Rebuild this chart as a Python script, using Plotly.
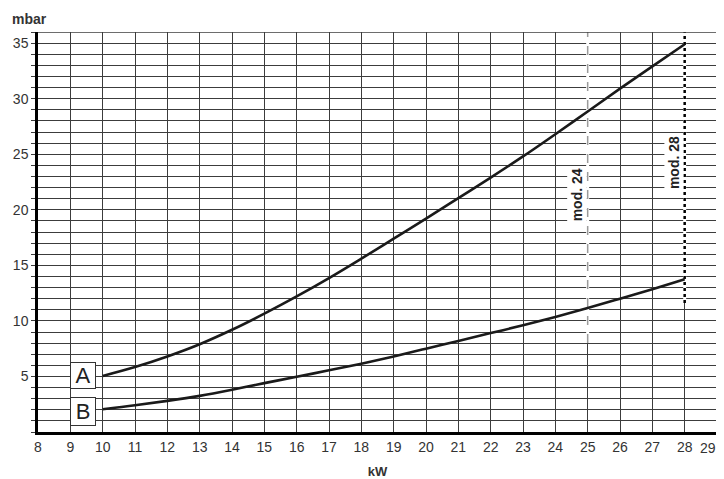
import plotly.graph_objects as go

# curve data
kw = [10, 11, 12, 13, 14, 15, 16, 17, 18, 19, 20, 21, 22, 23, 24, 25, 26, 27, 28]
p_a = [5.05, 5.85, 6.8, 7.9, 9.2, 10.65, 12.2, 13.85, 15.6, 17.4, 19.2, 21.05, 22.9, 24.8, 26.8, 28.85, 30.9, 32.9, 34.9]
p_b = [2.05, 2.4, 2.8, 3.25, 3.8, 4.4, 4.97, 5.55, 6.15, 6.8, 7.5, 8.2, 8.9, 9.6, 10.35, 11.15, 12.0, 12.85, 13.75]

# model limit lines
mod_names = ["mod. 24", "mod. 28"]
mod_kw = [25, 28]
mod_bottom = [8.0, 11.6]
mod_label_y = [21.3, 24.2]

x_ticks = list(range(8, 30))
y_ticks = list(range(0, 37))
y_labels = [str(v) if v % 5 == 0 and v > 0 else "" for v in y_ticks]

FONT = "Liberation Sans, Arial, sans-serif"
grid_col = "#3c3c3c"

fig = go.Figure()

# mod lines: white gap over the grid line, then the dashed line
for i, k in enumerate(mod_kw):
    fig.add_scatter(x=[k, k], y=[mod_bottom[i], 36], mode="lines",
                    line=dict(color="white", width=3), showlegend=False, hoverinfo="skip")
    if i == 0:
        fig.add_scatter(x=[k, k], y=[mod_bottom[i], 36], mode="lines",
                        line=dict(color="#9a9a9a", width=1.5, dash="dash"), showlegend=False)
    else:
        fig.add_scatter(x=[k, k], y=[mod_bottom[i], 36], mode="lines",
                        line=dict(color="black", width=2.5, dash="dot"), showlegend=False)
    fig.add_annotation(x=k - 0.33, y=mod_label_y[i], text="<b>" + mod_names[i] + "</b>",
                       textangle=-90, showarrow=False, bgcolor="white",
                       font=dict(family=FONT, size=14, color="#222"))

fig.add_scatter(x=kw, y=p_a, mode="lines", line=dict(color="#1a1a1a", width=2.6, shape="spline"),
                name="A", showlegend=False)
fig.add_scatter(x=kw, y=p_b, mode="lines", line=dict(color="#1a1a1a", width=2.6, shape="spline"),
                name="B", showlegend=False)

# boxed curve labels
fig.add_annotation(x=9.4, y=5.1, text="A", showarrow=False, bgcolor="white",
                   bordercolor="#333", borderwidth=1, width=22, height=23,
                   font=dict(family=FONT, size=22, color="#222"))
fig.add_annotation(x=9.4, y=1.85, text="B", showarrow=False, bgcolor="white",
                   bordercolor="#333", borderwidth=1, width=22, height=25,
                   font=dict(family=FONT, size=22, color="#222"))

fig.add_annotation(x=0.0, y=1.0, xref="paper", yref="paper", xshift=-28, yshift=3,
                   xanchor="left", yanchor="bottom", text="<b>mbar</b>", showarrow=False,
                   font=dict(family=FONT, size=14, color="#333"))

# last tick label sits on the right edge and plotly drops it, so put it back by hand
fig.add_annotation(x=x_ticks[-1], y=0, yref="paper", xanchor="right", xshift=1,
                   yanchor="top", yshift=-6,
                   text=str(x_ticks[-1]), showarrow=False,
                   font=dict(family=FONT, size=14, color="#333"))

fig.update_xaxes(range=[8, 29], tickvals=x_ticks, showgrid=True, gridcolor=grid_col, gridwidth=1.3,
                 showline=True, linecolor="black", linewidth=2.5, mirror=False, zeroline=False,
                 ticks="", automargin=False, tickfont=dict(family=FONT, size=14, color="#333"),
                 title=dict(text="<b>kW</b>", font=dict(family=FONT, size=13, color="#333"), standoff=14))
fig.update_yaxes(range=[0, 36], tickvals=y_ticks, ticktext=y_labels, showgrid=True,
                 gridcolor=grid_col, gridwidth=1.3, showline=True, linecolor="black", linewidth=2.5,
                 zeroline=False, ticks="outside", ticklen=4, tickcolor=grid_col, tickwidth=1.3,
                 automargin=False, tickfont=dict(family=FONT, size=14, color="#333"))

# right and top border
fig.add_shape(type="line", x0=29, x1=29, y0=0, y1=36, line=dict(color=grid_col, width=1.3))
fig.add_shape(type="line", x0=8, x1=29, y0=36, y1=36, line=dict(color=grid_col, width=1.3))

# page adds an 8px body margin, so the figure is a bit smaller than the window
fig.update_layout(width=716, height=471, plot_bgcolor="white", paper_bgcolor="white",
                  margin=dict(l=30, r=7, t=24, b=47), showlegend=False)

fig.write_html("out.html")
